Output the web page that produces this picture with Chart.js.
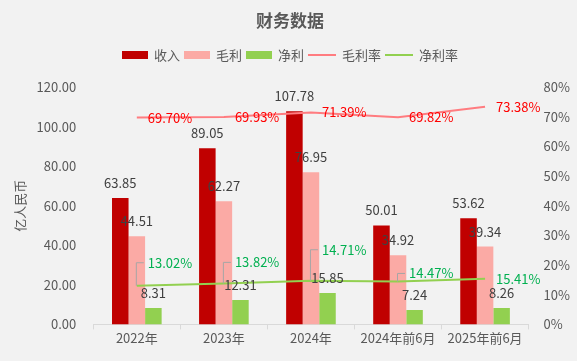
<!DOCTYPE html>
<html>
<head>
<meta charset="utf-8">
<script src="https://cdn.jsdelivr.net/npm/chart.js@4.4.0/dist/chart.umd.min.js"></script>
<style>
  html, body { margin: 0; padding: 0; background: #f2f2f2; }
  #wrap { width: 577px; height: 361px; }
</style>
</head>
<body>
<div id="wrap"><canvas id="chart" width="577" height="361"></canvas></div>
<script>
// dane z wykresu
const categories = ["2022年", "2023年", "2024年", "2024年前6月", "2025年前6月"];
const revenue = [63.85, 89.05, 107.78, 50.01, 53.62];
const grossProfit = [44.51, 62.27, 76.95, 34.92, 39.34];
const netProfit = [8.31, 12.31, 15.85, 7.24, 8.26];
const grossMargin = [69.70, 69.93, 71.39, 69.82, 73.38];
const netMargin = [13.02, 13.82, 14.71, 14.47, 15.41];

// przesunięcie etykiet marży netto w górę (px)
const netLabelLift = [23, 21, 31, 8, 0];

const FONT = '"Noto Sans CJK SC", "Noto Sans", sans-serif';

const legendItems = [
    { type: 'bar', color: '#c00000', text: '收入' },
    { type: 'bar', color: '#fbaaa5', text: '毛利' },
    { type: 'bar', color: '#92d050', text: '净利' },
    { type: 'line', color: '#ff7c80', text: '毛利率' },
    { type: 'line', color: '#92d050', text: '净利率' }
];

// tytuł + legenda + etykiety danych
const decorPlugin = {
    id: 'decor',
    afterDraw(chart) {
        const ctx = chart.ctx;
        ctx.save();

        // tytuł
        ctx.font = 'bold 17px ' + FONT;
        ctx.fillStyle = '#595959';
        ctx.textAlign = 'center';
        ctx.textBaseline = 'middle';
        ctx.fillText('财务数据', 290, 21);

        // legenda
        ctx.font = '13px ' + FONT;
        let x = 122;
        const ly = 55;
        legendItems.forEach(it => {
            if (it.type === 'bar') {
                ctx.fillStyle = it.color;
                ctx.fillRect(x, ly - 4, 26, 8);
            } else {
                ctx.strokeStyle = it.color;
                ctx.lineWidth = 2;
                ctx.beginPath();
                ctx.moveTo(x, ly);
                ctx.lineTo(x + 28, ly);
                ctx.stroke();
            }
            x += (it.type === 'bar' ? 26 : 28) + 6;
            ctx.fillStyle = '#595959';
            ctx.textAlign = 'left';
            ctx.fillText(it.text, x, ly);
            x += ctx.measureText(it.text).width + 4;
        });

        // etykiety słupków
        ctx.font = '13px ' + FONT;
        ctx.textAlign = 'center';
        ctx.textBaseline = 'middle';
        ctx.fillStyle = '#404040';
        [0, 1, 2].forEach(di => {
            const meta = chart.getDatasetMeta(di);
            meta.data.forEach((bar, i) => {
                const v = chart.data.datasets[di].data[i];
                ctx.fillText(v.toFixed(2), bar.x, bar.y - 15);
            });
        });

        // marża brutto
        ctx.textAlign = 'left';
        ctx.fillStyle = '#ff0000';
        chart.getDatasetMeta(3).data.forEach((pt, i) => {
            ctx.fillText(grossMargin[i].toFixed(2) + '%', pt.x + 11, pt.y);
        });

        // marża netto z liniami odniesienia
        chart.getDatasetMeta(4).data.forEach((pt, i) => {
            const lift = netLabelLift[i];
            const ty = pt.y - lift;
            if (lift > 5) {
                ctx.strokeStyle = '#a6a6a6';
                ctx.lineWidth = 1;
                ctx.beginPath();
                ctx.moveTo(pt.x - 0.5, pt.y);
                ctx.lineTo(pt.x - 0.5, ty);
                ctx.lineTo(pt.x + 7, ty);
                ctx.stroke();
            }
            ctx.fillStyle = '#00b050';
            ctx.fillText(netMargin[i].toFixed(2) + '%', pt.x + 11, ty);
        });

        ctx.restore();
    }
};

new Chart(document.getElementById('chart'), {
    type: 'bar',
    data: {
        labels: categories,
        datasets: [
            { label: '收入', data: revenue, backgroundColor: '#c00000', yAxisID: 'y', order: 2 },
            { label: '毛利', data: grossProfit, backgroundColor: '#fbaaa5', yAxisID: 'y', order: 2 },
            { label: '净利', data: netProfit, backgroundColor: '#92d050', yAxisID: 'y', order: 2 },
            { type: 'line', label: '毛利率', data: grossMargin, borderColor: '#ff7c80', borderWidth: 2,
              pointRadius: 0, yAxisID: 'y1', order: 1 },
            { type: 'line', label: '净利率', data: netMargin, borderColor: '#92d050', borderWidth: 2,
              pointRadius: 0, yAxisID: 'y1', order: 1 }
        ]
    },
    options: {
        responsive: false,
        animation: false,
        categoryPercentage: 0.57,
        barPercentage: 1,
        layout: { padding: { top: 87, left: 6, right: 0, bottom: 14 } },
        plugins: {
            legend: { display: false },
            tooltip: { enabled: false }
        },
        scales: {
            x: {
                grid: { offset: true, drawOnChartArea: false, color: '#d9d9d9', tickLength: 5 },
                border: { color: '#d9d9d9' },
                ticks: { color: '#595959', font: { family: FONT, size: 13 }, maxRotation: 0, autoSkip: false, padding: 1 }
            },
            y: {
                min: 0, max: 120,
                grid: { display: false },
                border: { display: false },
                ticks: { stepSize: 20, color: '#595959', font: { family: FONT, size: 13 },
                         callback: v => v.toFixed(2), padding: 9 },
                title: { display: true, text: '亿人民币', color: '#595959', font: { family: FONT, size: 13 },
                         padding: { top: 6, bottom: 0 } }
            },
            y1: {
                position: 'right',
                min: 0, max: 80,
                grid: { display: false },
                border: { display: false },
                ticks: { stepSize: 10, color: '#595959', font: { family: FONT, size: 13 },
                         callback: v => v + '%', padding: 7 }
            }
        }
    },
    plugins: [decorPlugin]
});
</script>
</body>
</html>
